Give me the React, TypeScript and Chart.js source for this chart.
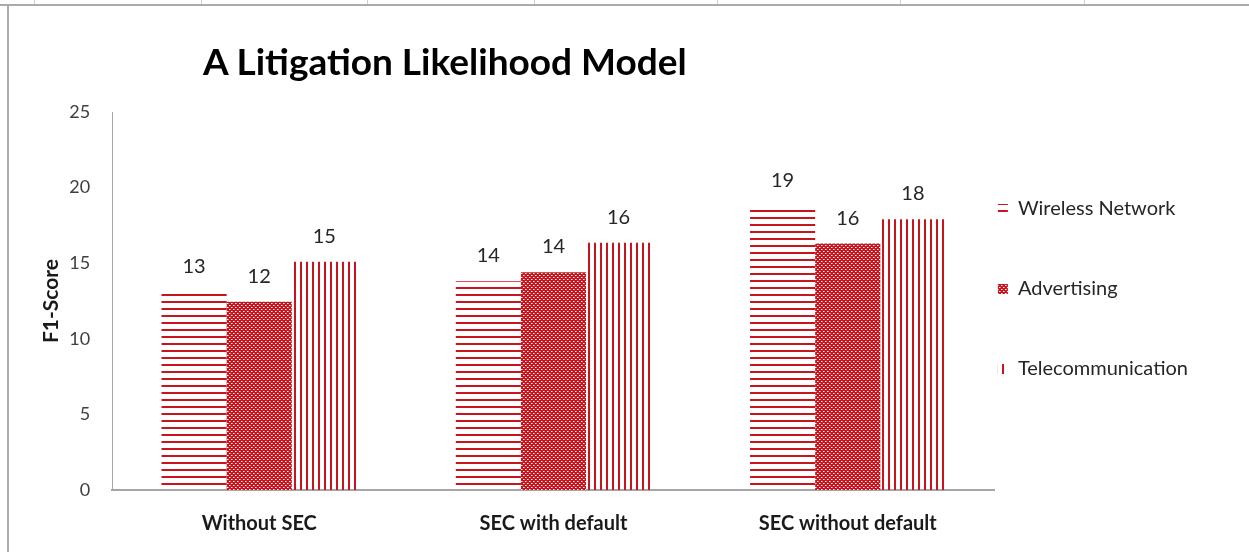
import { useEffect, useRef } from 'react';
import { Chart, registerables } from 'chart.js';

Chart.register(...registerables);

const categories = ['Without SEC', 'SEC with default', 'SEC without default'];
const seriesNames = ['Wireless Network', 'Advertising', 'Telecommunication'];
const wirelessValues = [13.1, 13.8, 18.8];
const advertisingValues = [12.45, 14.4, 16.3];
const telecomValues = [15.1, 16.35, 17.9];
const yTickValues = [0, 5, 10, 15, 20, 25];

const RED = '#C8141C';

function makePattern(kind: 'h' | 'v' | 'dot'): CanvasPattern | string {
  const c = document.createElement('canvas');
  const ctx = c.getContext('2d');
  if (!ctx) return RED;
  if (kind === 'h') {
    c.width = 7; c.height = 7;
    ctx.fillStyle = RED;
    ctx.fillRect(0, 0, 7, 2);
  } else if (kind === 'v') {
    c.width = 6; c.height = 6;
    ctx.fillStyle = RED;
    ctx.fillRect(0, 0, 2, 6);
  } else {
    c.width = 4; c.height = 4;
    ctx.fillStyle = RED;
    ctx.fillRect(0, 0, 4, 4);
    ctx.fillStyle = '#ffffff';
    ctx.fillRect(1, 1, 1, 1);
    ctx.fillRect(3, 3, 1, 1);
    ctx.fillStyle = '#E88A8E';
    ctx.fillRect(2, 1, 1, 1);
    ctx.fillRect(0, 3, 1, 1);
  }
  const p = ctx.createPattern(c, 'repeat');
  return p || RED;
}

const dataLabelsPlugin = {
  id: 'dataLabels',
  afterDatasetsDraw(chart: any) {
    const ctx = chart.ctx;
    ctx.save();
    ctx.font = '20px Lato';
    ctx.fillStyle = '#262626';
    ctx.textAlign = 'center';
    ctx.textBaseline = 'alphabetic';
    chart.data.datasets.forEach((ds: any, i: number) => {
      chart.getDatasetMeta(i).data.forEach((bar: any, j: number) => {
        ctx.fillText(String(Math.round(ds.data[j])), bar.x, bar.y - 19);
      });
    });
    ctx.restore();
  },
};

const legendShiftPlugin = {
  id: 'legendShift',
  afterLayout(chart: any) {
    const lg = chart.legend;
    if (!lg) return;
    const pad = lg.options.labels.padding;
    const dx = chart.chartArea.right + 3 - (lg.left + pad);
    lg.left += dx;
    lg.right += dx;
    lg.top -= 46;
    lg.bottom -= 46;
  },
};

export default function App() {
  const canvasRef = useRef<HTMLCanvasElement | null>(null);

  useEffect(() => {
    let chart: Chart | null = null;
    let cancelled = false;
    const build = () => {
      if (cancelled || !canvasRef.current) return;
      const patterns = [makePattern('h'), makePattern('dot'), makePattern('v')];
      const values = [wirelessValues, advertisingValues, telecomValues];
      chart = new Chart(canvasRef.current, {
        type: 'bar',
        data: {
          labels: categories,
          datasets: seriesNames.map((name, i) => ({
            label: name,
            data: values[i],
            backgroundColor: patterns[i] as any,
            borderWidth: 0,
            categoryPercentage: 0.664,
            barPercentage: 1,
          })),
        },
        options: {
          responsive: false,
          animation: false,
          font: { family: 'Lato' },
          layout: { padding: { left: 39, top: 112, right: -6, bottom: -6 } },
          plugins: {
            title: { display: false },
            tooltip: { enabled: false },
            legend: {
              position: 'right',
              align: 'center',
              labels: {
                boxWidth: 10,
                boxHeight: 10,
                padding: 60,
                color: '#262626',
                font: { family: 'Lato', size: 20 },
              },
            },
          },
          scales: {
            x: {
              grid: { display: false, drawTicks: false },
              border: { display: true, color: '#A6A6A6', width: 2 },
              ticks: {
                color: '#1a1a1a',
                padding: 22,
                font: { family: 'Lato', size: 20, weight: 'bold' },
              },
            },
            y: {
              min: 0,
              max: 25,
              afterBuildTicks: (axis: any) => {
                axis.ticks = yTickValues.map((v) => ({ value: v }));
              },
              grid: { display: false, drawTicks: false },
              border: { display: true, color: '#A6A6A6', width: 1 },
              ticks: {
                color: '#404040',
                padding: 22,
                font: { family: 'Lato', size: 18 },
              },
              title: {
                display: true,
                text: 'F1-Score',
                color: '#1a1a1a',
                padding: { top: 0, bottom: -17 },
                font: { family: 'Lato', size: 21, weight: 'bold' },
              },
            },
          },
        } as any,
        plugins: [dataLabelsPlugin, legendShiftPlugin],
      });
    };
    const fontsReady = (document as any).fonts
      ? Promise.all([
          (document as any).fonts.load('18px Lato'),
          (document as any).fonts.load('bold 18px Lato'),
        ]).catch(() => null)
      : Promise.resolve(null);
    fontsReady.then(build);
    return () => {
      cancelled = true;
      if (chart) chart.destroy();
    };
  }, []);

  const colLines = [34, 201, 367, 534, 717, 900, 1084];

  return (
    <div style={{ position: 'absolute', left: 0, top: 0, width: 1249, height: 552, background: '#ffffff', overflow: 'hidden' }}>
      {colLines.map((x) => (
        <div key={x} style={{ position: 'absolute', left: x, top: 0, width: 1, height: 4, background: '#D0D0D0' }} />
      ))}
      <div style={{ position: 'absolute', left: 0, top: 4, width: 1249, height: 2, background: '#ABABAB' }} />
      <div style={{ position: 'absolute', left: 7, top: 4, width: 2, height: 548, background: '#ABABAB' }} />
      <canvas ref={canvasRef} width={1249} height={552} style={{ position: 'absolute', left: 0, top: 0, width: 1249, height: 552 }} />
      <div
        style={{
          position: 'absolute',
          left: 203,
          top: 39,
          fontFamily: 'Lato',
          fontWeight: 'bold',
          fontSize: 37,
          lineHeight: '44px',
          color: '#000000',
          whiteSpace: 'nowrap',
        }}
      >
        A Litigation Likelihood Model
      </div>
    </div>
  );
}
